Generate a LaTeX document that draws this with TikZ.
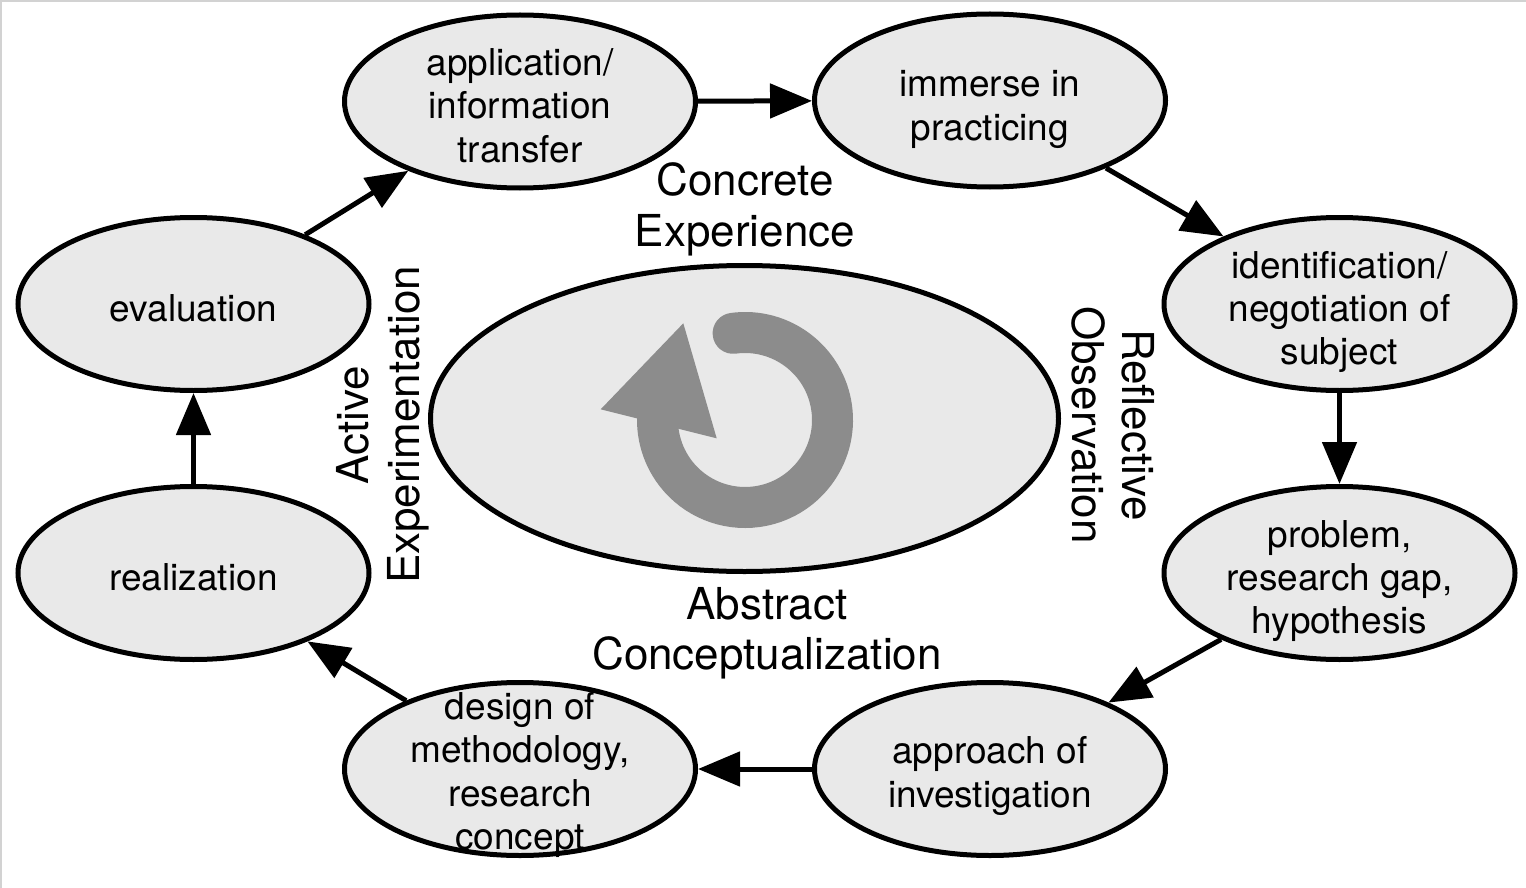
\documentclass[tikz,border=0pt]{standalone}
\usepackage{fontspec}
\setmainfont{TeX Gyre Heros}
\usetikzlibrary{shapes.geometric,arrows.meta,calc}
\definecolor{fillgray}{HTML}{E9E9E9}
\definecolor{ringgray}{HTML}{8C8C8C}
\definecolor{framegray}{HTML}{D2D2D2}
\begin{document}
\begin{tikzpicture}[x=1pt,y=-1pt,
  stage/.style={ellipse, draw=black, line width=5pt, fill=fillgray,
    minimum width=351pt, minimum height=173pt, inner sep=0pt},
  stagetext/.style={align=center, font=\fontsize{37}{43.3}\selectfont, inner sep=0pt},
  phase/.style={align=center, font=\fontsize{44}{50.5}\selectfont, inner sep=0pt},
  flow/.style={line width=5pt, -{Triangle[length=42pt,width=34pt]}}]
\useasboundingbox (0,0) rectangle (1526,888);
\draw[framegray, line width=2.5pt] (1.2,888) -- (1.2,1.2) -- (1526,1.2);

% central ellipse and cycle icon
\node[ellipse, draw=black, line width=5pt, fill=fillgray, minimum width=628pt,
  minimum height=306pt, inner sep=0pt] (core) at (744.5,418.5) {};
\coordinate (rc) at (745,420);
\draw[ringgray, line width=41pt, line cap=round]
  ($(rc)+(-97.8:87.5)$) arc[start angle=-97.8, end angle=190, radius=87.5];
\fill[ringgray] (683.3,323.3) -- (600.7,409.3) -- (716.7,438.3) -- cycle;

% stages
\node[stage] (app) at (520,101.5) {};
\node[stage] (imm) at (990,100.5) {};
\node[stage] (ide) at (1339.5,304) {};
\node[stage] (pro) at (1339.5,573) {};
\node[stage] (apr) at (990,769) {};
\node[stage] (des) at (520,769) {};
\node[stage] (rea) at (193.5,573) {};
\node[stage] (eva) at (193.5,304) {};

\node[stagetext] (tapp) at ($(app)+(0,4)$) {application/\\information\\transfer};
\node[stagetext] (timm) at ($(imm)+(0,9)$) {immerse in\\practicing};
\node[stagetext] (tide) at ($(ide)+(0,8)$) {identification/\\negotiation of\\subject};
\node[stagetext] (tpro) at ($(pro)+(0,8)$) {problem,\\research gap,\\hypothesis};
\node[stagetext] (tapr) at ($(apr)+(0,7)$) {approach of\\investigation};
\node[stagetext] (tdes) at ($(des)+(0,6)$) {design of\\methodology,\\research\\concept};
\node[stagetext] (trea) at ($(rea)+(0,4)$) {realization};
\node[stagetext] (teva) at ($(eva)+(0,4)$) {evaluation};

% phase labels
\node[phase] (ce) at (745,209.5) {Concrete\\Experience};
\node[phase] (ac) at (767,633.5) {Abstract\\Conceptualization};
\node[phase, rotate=90] (ae) at (383,425) {Active\\Experimentation};
\node[phase, rotate=-90] (ro) at (1113,425) {Reflective\\Observation};

% connectors
\draw[flow] (app) -- (imm);
\draw[flow] (imm) -- (ide);
\draw[flow] (ide) -- (pro);
\draw[flow] (pro) -- (apr);
\draw[flow] (apr) -- (des);
\draw[flow] (des) -- (rea);
\draw[flow] (rea) -- (eva);
\draw[flow] (eva) -- (app);
\end{tikzpicture}
\end{document}
